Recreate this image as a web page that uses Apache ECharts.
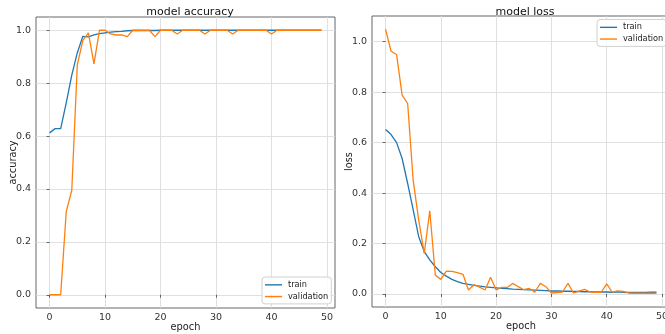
<!DOCTYPE html>
<html>
<head>
<meta charset="utf-8">
<script src="https://cdn.jsdelivr.net/npm/echarts@6/dist/echarts.min.js"></script>
<style>html,body{margin:0;padding:0;background:#fff}#c{width:665px;height:334px}</style>
</head>
<body>
<div id="c"></div>
<script>
var epochs = [0,1,2,3,4,5,6,7,8,9,10,11,12,13,14,15,16,17,18,19,20,21,22,23,24,25,26,27,28,29,30,31,32,33,34,35,36,37,38,39,40,41,42,43,44,45,46,47,48,49];
var trainAcc = [0.612,0.628,0.628,0.725,0.83,0.915,0.977,0.975,0.982,0.987,0.99,0.993,0.995,0.996,0.998,0.999,0.999,0.999,0.999,0.999,1.0,1.0,1.0,1.0,1.0,1.0,1.0,1.0,1.0,1.0,1.0,1.0,1.0,1.0,1.0,1.0,1.0,1.0,1.0,1.0,1.0,1.0,1.0,1.0,1.0,1.0,1.0,1.0,1.0,1.0];
var valAcc = [0.0,0.0,0.0,0.314,0.395,0.87,0.962,0.99,0.873,1.0,1.0,0.986,0.982,0.982,0.976,1.0,1.0,1.0,1.0,0.976,1.0,1.0,1.0,0.986,1.0,1.0,1.0,1.0,0.986,1.0,1.0,1.0,1.0,0.986,1.0,1.0,1.0,1.0,1.0,1.0,0.986,1.0,1.0,1.0,1.0,1.0,1.0,1.0,1.0,1.0];
var trainLoss = [0.652,0.632,0.6,0.537,0.438,0.333,0.227,0.168,0.135,0.108,0.085,0.071,0.058,0.049,0.042,0.038,0.034,0.031,0.028,0.026,0.024,0.022,0.021,0.019,0.018,0.017,0.016,0.015,0.014,0.013,0.012,0.012,0.011,0.011,0.010,0.010,0.009,0.009,0.008,0.008,0.008,0.007,0.009,0.007,0.006,0.006,0.006,0.006,0.007,0.007];
var valLoss = [1.05,0.962,0.949,0.788,0.755,0.45,0.293,0.161,0.33,0.075,0.058,0.091,0.09,0.085,0.078,0.016,0.037,0.027,0.016,0.066,0.016,0.026,0.026,0.042,0.029,0.017,0.022,0.007,0.042,0.029,0.004,0.006,0.008,0.042,0.004,0.011,0.018,0.008,0.007,0.007,0.04,0.007,0.012,0.01,0.004,0.003,0.003,0.003,0.003,0.003];
var xTicks = [0,10,20,30,40,50];
var yTicks = [0,0.2,0.4,0.6,0.8,1.0];
var titles = ['model accuracy','model loss'];
var yNames = ['accuracy','loss'];
var seriesNames = ['train','validation'];

function pairs(v){ return epochs.map(function(e,i){ return [e, v[i]]; }); }
var FONT = 'DejaVu Sans';
var BLUE = '#1f77b4', ORANGE = '#ff7f0e';

function xAxisCfg(gi){
  return {
    type:'value', gridIndex:gi, min:-2.45, max:51.45,
    name:'epoch', nameLocation:'middle', nameGap:14, nameMoveOverlap:false,
    nameTextStyle:{fontFamily:FONT,fontSize:9.8,color:'#222'},
    axisLine:{show:false},
    axisTick:{show:true,length:3,customValues:xTicks,lineStyle:{color:'#444',width:0.8}},
    axisLabel:{customValues:xTicks,margin:5,fontFamily:FONT,fontSize:9.5,color:'#333'},
    splitLine:{show:true,lineStyle:{color:'#dcdcdc',width:0.9}}
  };
}
function yAxisCfg(gi,min,max){
  return {
    type:'value', gridIndex:gi, min:min, max:max,
    name:yNames[gi], nameLocation:'middle', nameGap:18, nameRotate:90, nameMoveOverlap:false,
    nameTextStyle:{fontFamily:FONT,fontSize:9.8,color:'#222'},
    axisLine:{show:false},
    axisTick:{show:true,length:3,customValues:yTicks,lineStyle:{color:'#444',width:0.8}},
    axisLabel:{customValues:yTicks,margin:5,fontFamily:FONT,fontSize:9.5,color:'#333',
      formatter:function(v){return v.toFixed(1);}},
    splitLine:{show:true,lineStyle:{color:'#dcdcdc',width:0.9}}
  };
}
function line(name,data,color,xi){
  return {name:name,type:'line',xAxisIndex:xi,yAxisIndex:xi,data:pairs(data),
    showSymbol:false,symbol:'none',color:color,lineStyle:{color:color,width:1.3},
    animation:false,silent:true};
}
var legendCommon = {
  orient:'vertical', icon:'rect', itemWidth:17, itemHeight:1.4, itemGap:0,
  backgroundColor:'rgba(255,255,255,0.85)', borderColor:'#d0d0d0', borderWidth:1, borderRadius:3,
  padding:[2,3,1.5,3],
  textStyle:{fontFamily:FONT,fontSize:8.2,color:'#222',lineHeight:11.7,padding:[0,0,0,1]},
  data:seriesNames
};
var option = {
  animation:false,
  backgroundColor:'#fff',
  title:[
    {text:titles[0],left:185,top:1.5,textAlign:'center',textStyle:{fontFamily:FONT,fontSize:11,fontWeight:'normal',color:'#111'}},
    {text:titles[1],left:520,top:1.5,textAlign:'center',textStyle:{fontFamily:FONT,fontSize:11,fontWeight:'normal',color:'#111'}}
  ],
  grid:[
    {left:36,top:17,width:299,height:291,outerBoundsMode:'none',containLabel:false,show:true,borderColor:'#555',borderWidth:0.9,backgroundColor:'transparent'},
    {left:372,top:16,width:298,height:291,outerBoundsMode:'none',containLabel:false,show:true,borderColor:'#555',borderWidth:0.9,backgroundColor:'transparent'}
  ],
  xAxis:[xAxisCfg(0),xAxisCfg(1)],
  yAxis:[yAxisCfg(0,-0.05,1.05),yAxisCfg(1,-0.0515,1.1018)],
  legend:[
    Object.assign({},legendCommon,{left:262,top:277}),
    Object.assign({},legendCommon,{left:597,top:19.5})
  ],
  series:[
    line(seriesNames[0],trainAcc,BLUE,0),
    line(seriesNames[1],valAcc,ORANGE,0),
    line(seriesNames[0],trainLoss,BLUE,1),
    line(seriesNames[1],valLoss,ORANGE,1)
  ]
};
var chart = echarts.init(document.getElementById('c'),null,{renderer:'canvas'});
chart.setOption(option);
</script>
</body>
</html>
